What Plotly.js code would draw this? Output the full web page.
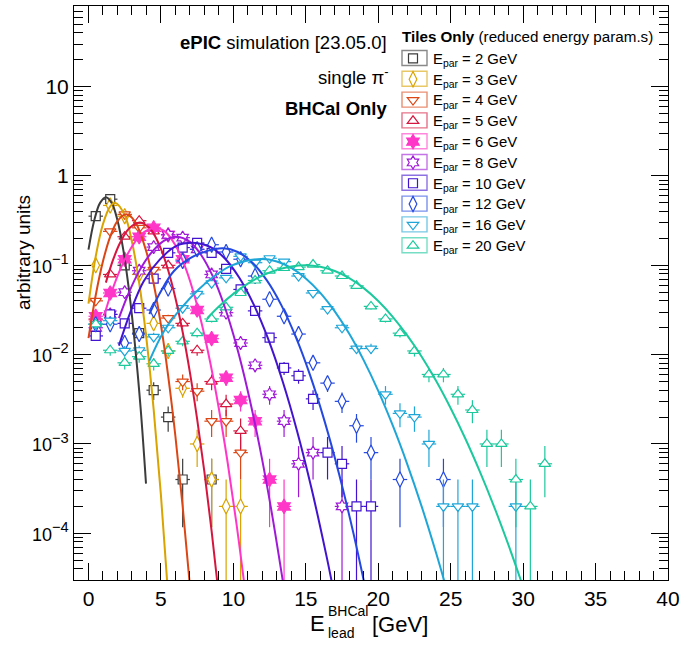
<!DOCTYPE html>
<html><head><meta charset="utf-8">
<script src="https://cdn.plot.ly/plotly-3.0.1.min.js"></script>
<style>html,body{margin:0;padding:0;background:#fff}#chart{width:682px;height:645px}</style>
</head><body><div id="chart"></div>
<script>
// ---------------- data ----------------
const energies = [2, 3, 4, 5, 6, 8, 10, 12, 16, 20];

const binX_2GeV = [0.5,1.5,2.5,3.5,4.5,5.5,6.5,8.5];
const val_2GeV  = [0.355,0.55,0.10,0.0174,0.004,0.002,0.0004,0.0004];
const fitX_2GeV = [0,0.4,0.8,1.2,1.6,2.0,2.4,2.8,3.2,3.6,3.97];
const fitY_2GeV = [0.15,0.32,0.50,0.58,0.50,0.32,0.15,0.052,0.0133,0.0025,0.00036];

const binX_3GeV = [0.5,1.5,2.5,3.5,4.5,5.5,6.5,7.5,8.5,9.5,10.5];
const val_3GeV  = [0.10,0.468,0.355,0.079,0.0224,0.011,0.0042,0.001,0.0004,0.0002,0.0002];
const fitX_3GeV = [0,0.5,1.0,1.5,1.85,2.5,3.0,3.5,4.0,4.5,5.0,5.5];
const fitY_3GeV = [0.0372,0.126,0.29,0.457,0.50,0.364,0.184,0.0634,0.015,0.00242,0.000267,0.00002];

const binX_4GeV = [0.5,1.5,2.5,3.5,4.5,5.5,6.5,7.5,8.5,9.5,10.5];
const val_4GeV  = [0.04,0.24,0.372,0.263,0.089,0.0257,0.005,0.0039,0.0018,0.0018,0.0008];
const fitX_4GeV = [0,0.5,1,1.5,2,2.6,3.2,4,4.5,5,5.5,6,6.5,7.0];
const fitY_4GeV = [0.0153,0.0463,0.111,0.21,0.313,0.372,0.311,0.141,0.0622,0.0215,0.00578,0.00122,0.0002,0.0000257];

const binX_5GeV = [0.5,1.5,2.5,3.5,4.5,5.5,6.5,7.5,8.5,9.5,10.5];
const val_5GeV  = [0.025,0.079,0.209,0.316,0.24,0.10,0.0224,0.0112,0.005,0.0028,0.0014];
const fitX_5GeV = [1.2,1.7,2.2,2.8,3.55,4.3,5.0,5.5,6.0,6.5,7.0,7.5,8.0,8.5,9.0];
const fitY_5GeV = [0.064,0.1156,0.181,0.258,0.302,0.252,0.153,0.0879,0.043,0.0179,0.00634,0.0019,0.000488,0.000106,0.0000196];

const binX_6GeV = [0.5,1.5,2.5,3.5,4.5,5.5,6.5,7.5,8.5,9.5,10.5,11.5,12.5,13.5];
const val_6GeV  = [0.0269,0.049,0.117,0.209,0.263,0.219,0.117,0.0316,0.0151,0.0055,0.0031,0.0018,0.0004,0.0002];
const fitX_6GeV = [1.07,1.6,2.2,2.8,3.4,4.0,4.65,5.3,6.0,6.6,7.2,7.8,8.4,9.0,9.6,10.2,10.8];
const fitY_6GeV = [0.0271,0.0506,0.0908,0.143,0.20,0.244,0.263,0.237,0.168,0.103,0.053,0.0228,0.00822,0.00248,0.000628,0.000133,0.0000236];

const binX_8GeV = [0.5,1.5,2.5,3.5,4.5,5.5,6.5,7.5,8.5,9.5,10.5,11.5,12.5,13.5,14.5,15.5,17.5];
const val_8GeV  = [0.02,0.0282,0.05,0.087,0.16,0.22,0.204,0.151,0.079,0.0295,0.0135,0.0076,0.0036,0.0018,0.0006,0.0008,0.0002];
const fitX_8GeV = [2.1,2.8,3.5,4.3,5.2,6.1,7.0,7.8,8.6,9.4,10.2,11.0,11.8,12.6,13.5];
const fitY_8GeV = [0.0256,0.05,0.0861,0.136,0.188,0.209,0.183,0.129,0.0741,0.0344,0.0129,0.0039,0.000957,0.00019,0.0000238];

const binX_10GeV = [0.5,1.5,2.5,3.5,4.5,5.5,6.5,7.5,8.5,9.5,10.5,11.5,12.5,13.5,14.5,15.5,16.5,17.5,18.5,19.5];
const val_10GeV  = [0.0162,0.0282,0.0224,0.0331,0.0708,0.138,0.158,0.178,0.138,0.0912,0.0537,0.0309,0.0155,0.0071,0.0058,0.0032,0.0008,0.0006,0.0002,0.0002];
const fitX_10GeV = [2.1,2.9,3.8,4.9,6.1,7.4,8.4,9.4,10.4,11.4,12.4,13.4,14.4,15.4,16.4,16.9];
const fitY_10GeV = [0.0126,0.0302,0.066,0.115,0.166,0.178,0.161,0.12,0.073,0.0365,0.015,0.00504,0.00139,0.000315,0.0000585,0.0000234];

const binX_12GeV = [0.5,1.5,2.5,3.5,4.5,5.5,6.5,7.5,8.5,9.5,10.5,11.5,12.5,13.5,14.5,15.5,16.5,17.5,18.5,19.5,21.5,24.5];
const val_12GeV  = [0.0219,0.0219,0.0135,0.017,0.0316,0.055,0.112,0.151,0.17,0.141,0.117,0.0759,0.0417,0.0269,0.017,0.0081,0.0048,0.003,0.0016,0.0008,0.0004,0.0004];
const fitX_12GeV = [4.2,5.0,5.9,7.05,8.2,9.3,10.3,11.3,12.3,13.3,14.3,15.3,16.3,17.3,18.3,19.3];
const fitY_12GeV = [0.0285,0.0513,0.0863,0.121,0.145,0.155,0.141,0.1076,0.0682,0.0361,0.0159,0.00586,0.00179,0.000459,0.000098,0.0000174];

const binX_16GeV = [0.5,1.5,2.5,3.5,4.5,5.5,6.5,7.5,8.5,9.5,10.5,11.5,12.5,13.5,14.5,15.5,16.5,17.5,18.5,19.5,20.5,21.5,22.5,23.5,24.5,25.5,26.5,29.5];
const val_16GeV  = [0.0219,0.024,0.011,0.0112,0.0158,0.02,0.0331,0.0479,0.063,0.0724,0.126,0.107,0.12,0.11,0.0759,0.049,0.0324,0.02,0.0117,0.0117,0.0036,0.0022,0.002,0.001,0.0002,0.0002,0.0002,0.0002];
const fitX_16GeV = [4.2,5.2,6.4,7.6,8.7,9.9,11.9,13,14,15,16,17,18,19,20,21,22,23,24,24.9];
const fitY_16GeV = [0.00851,0.0182,0.0331,0.0537,0.0759,0.10,0.1175,0.1104,0.0935,0.0714,0.0492,0.0305,0.0171,0.00863,0.00393,0.00161,0.000596,0.000199,0.0000597,0.0000186];

const binX_20GeV = [0.5,1.5,2.5,3.5,4.5,5.5,6.5,7.5,8.5,9.5,10.5,11.5,12.5,13.5,14.5,15.5,16.5,17.5,18.5,19.5,20.5,21.5,22.5,23.5,24.5,25.5,26.5,27.5,28.5,29.5,30.5,31.5];
const val_20GeV  = [0.0219,0.0112,0.0081,0.0095,0.0079,0.011,0.0141,0.0174,0.0251,0.0339,0.049,0.0676,0.087,0.0933,0.0955,0.102,0.087,0.0759,0.0589,0.0347,0.0251,0.0174,0.011,0.006,0.006,0.0036,0.0024,0.001,0.001,0.0004,0.0002,0.0006];
const fitX_20GeV = [8.2,9,10,11,12,13,14,15,16,17,18,19,20,21,22,23,24,25,26,27,28,29,30];
const fitY_20GeV = [0.0256,0.0346,0.0479,0.0624,0.0767,0.0889,0.097,0.10,0.0964,0.0863,0.0718,0.0555,0.0398,0.0265,0.0164,0.00946,0.00506,0.00251,0.00116,0.000497,0.000198,0.0000731,0.0000251];

// y tick labels
const yTickVals = [1e-4, 1e-3, 1e-2, 1e-1, 1, 10];
const yTickText = ['10<sup>−4</sup>','10<sup>−3</sup>','10<sup>−2</sup>','10<sup>−1</sup>','1','10'];

// value of one entry (single-count level seen in the picture)
const countUnit = 2e-4;
const binHalfWidth = 0.5;

// ---------------- styles ----------------
const colors  = ['#3c3c3c','#d9a300','#dc4614','#d6163e','#ff36c8','#a018d8','#4214d0','#2449e0','#1fa6d8','#1cc99d'];
const symbols = ['square','diamond-tall','triangle-down','triangle-up','hexagram','hexagram','square','diamond-tall','triangle-down','triangle-up'];
const filled  = [false,false,false,false,true,false,false,false,false,false];
const msize   = [9,11,10,10,11,10,9,11,10,10];

const series = [
  [binX_2GeV,val_2GeV,fitX_2GeV,fitY_2GeV],
  [binX_3GeV,val_3GeV,fitX_3GeV,fitY_3GeV],
  [binX_4GeV,val_4GeV,fitX_4GeV,fitY_4GeV],
  [binX_5GeV,val_5GeV,fitX_5GeV,fitY_5GeV],
  [binX_6GeV,val_6GeV,fitX_6GeV,fitY_6GeV],
  [binX_8GeV,val_8GeV,fitX_8GeV,fitY_8GeV],
  [binX_10GeV,val_10GeV,fitX_10GeV,fitY_10GeV],
  [binX_12GeV,val_12GeV,fitX_12GeV,fitY_12GeV],
  [binX_16GeV,val_16GeV,fitX_16GeV,fitY_16GeV],
  [binX_20GeV,val_20GeV,fitX_20GeV,fitY_20GeV]
];

const FONT = 'Liberation Sans, Arial, Helvetica, sans-serif';
const legendNames = energies.map(e => '<span style="font-size:14.9px">E<sub>par</sub> = ' + e + ' GeV</span>');
const yTickTextStyled = yTickText.map(t => t.indexOf('<sup>') >= 0
  ? t.replace(/^10/, '<span style="font-size:18px">10</span>') : t);

const traces = [];
series.forEach((s, i) => {
  const [bx, v] = s;
  const errUp = v.map(y => Math.sqrt(y * countUnit));
  const errDn = v.map(y => Math.min(Math.sqrt(y * countUnit), y * 0.9999));
  traces.push({
    type: 'scatter', mode: 'markers', x: bx, y: v, name: legendNames[i],
    marker: {symbol: symbols[i], size: msize[i], color: filled[i] ? colors[i] : '#ffffff',
             line: {color: colors[i], width: 1.2}},
    error_x: {type: 'constant', value: binHalfWidth, color: colors[i], thickness: 1.2, width: 0},
    error_y: {type: 'data', symmetric: false, array: errUp, arrayminus: errDn, color: colors[i], thickness: 1.2, width: 0},
    cliponaxis: true, showlegend: true
  });
});
series.forEach((s, i) => {
  traces.push({
    type: 'scatter', mode: 'lines', x: s[2], y: s[3], showlegend: false,
    line: {color: colors[i], width: 2, shape: 'spline', smoothing: 1}
  });
});

// ---------------- layout ----------------
const W = 682, H = 645, ML = 74, MR = 14, MT = 6, MB = 65;
const PW = W - ML - MR, PH = H - MT - MB;
const px = x => (x - ML) / PW;          // page pixel -> paper x
const py = y => (H - MB - y) / PH;      // page pixel -> paper y

const rowY0 = 58, rowDY = 20.8;
const shapes = energies.map((e, i) => ({
  type: 'rect', xref: 'paper', yref: 'paper', layer: 'above',
  x0: px(402), x1: px(427), y0: py(rowY0 + i * rowDY + 7.5), y1: py(rowY0 + i * rowDY - 7.5),
  line: {color: colors[i], width: 1.4}, opacity: 0.6
}));

const ann = (text, x, y, xa, size, extra) => Object.assign({
  text, x: px(x), y: py(y), xref: 'paper', yref: 'paper', xanchor: xa, yanchor: 'middle',
  showarrow: false, font: {family: FONT, size, color: '#000'}
}, extra || {});

const annotations = [
  ann('<b>ePIC</b> simulation [23.05.0]', 389, 42, 'right', 18.5),
  ann('single π<sup>-</sup>', 391, 76, 'right', 18.5),
  ann('<b>BHCal Only</b>', 389, 109, 'right', 18.5),
  ann('<b>Tiles Only</b> (reduced energy param.s)', 400, 36, 'left', 15.2),
  ann('arbitrary units', 23, 253, 'center', 19, {textangle: -90}),
  ann('E', 327, 623, 'right', 22),
  ann('BHCal', 326, 611, 'left', 14),
  ann('lead', 326, 633, 'left', 14),
  ann('[GeV]', 370, 624, 'left', 22)
];

const axisCommon = {
  showline: true, linecolor: '#000', linewidth: 1, mirror: 'ticks',
  ticks: 'inside', ticklen: 17, tickwidth: 1, tickcolor: '#000',
  showgrid: false, zeroline: false,
  tickfont: {family: FONT, size: 21, color: '#000'}
};

const layout = {
  width: W, height: H, margin: {l: ML, r: MR, t: MT, b: MB},
  paper_bgcolor: '#fff', plot_bgcolor: '#fff',
  font: {family: FONT, color: '#000'},
  xaxis: Object.assign({}, axisCommon, {
    range: [-1, 40], tick0: 0, dtick: 5,
    minor: {dtick: 1, ticks: 'inside', ticklen: 9, tickcolor: '#000', tickwidth: 1}
  }),
  yaxis: Object.assign({}, axisCommon, {
    type: 'log', range: [Math.log10(3e-5), Math.log10(80)],
    tickmode: 'array', tickvals: yTickVals, ticktext: yTickTextStyled,
    minor: {dtick: 'D1', ticks: 'inside', ticklen: 9, tickcolor: '#000', tickwidth: 1}
  }),
  showlegend: true,
  legend: {x: px(393), y: py(43), xanchor: 'left', yanchor: 'top', bgcolor: 'rgba(0,0,0,0)',
           borderwidth: 0, font: {family: FONT, size: 13.7, color: '#000'}, itemwidth: 30, tracegroupgap: 0},
  shapes, annotations, hovermode: false
};

Plotly.newPlot('chart', traces, layout, {staticPlot: true, displayModeBar: false});
</script></body></html>
